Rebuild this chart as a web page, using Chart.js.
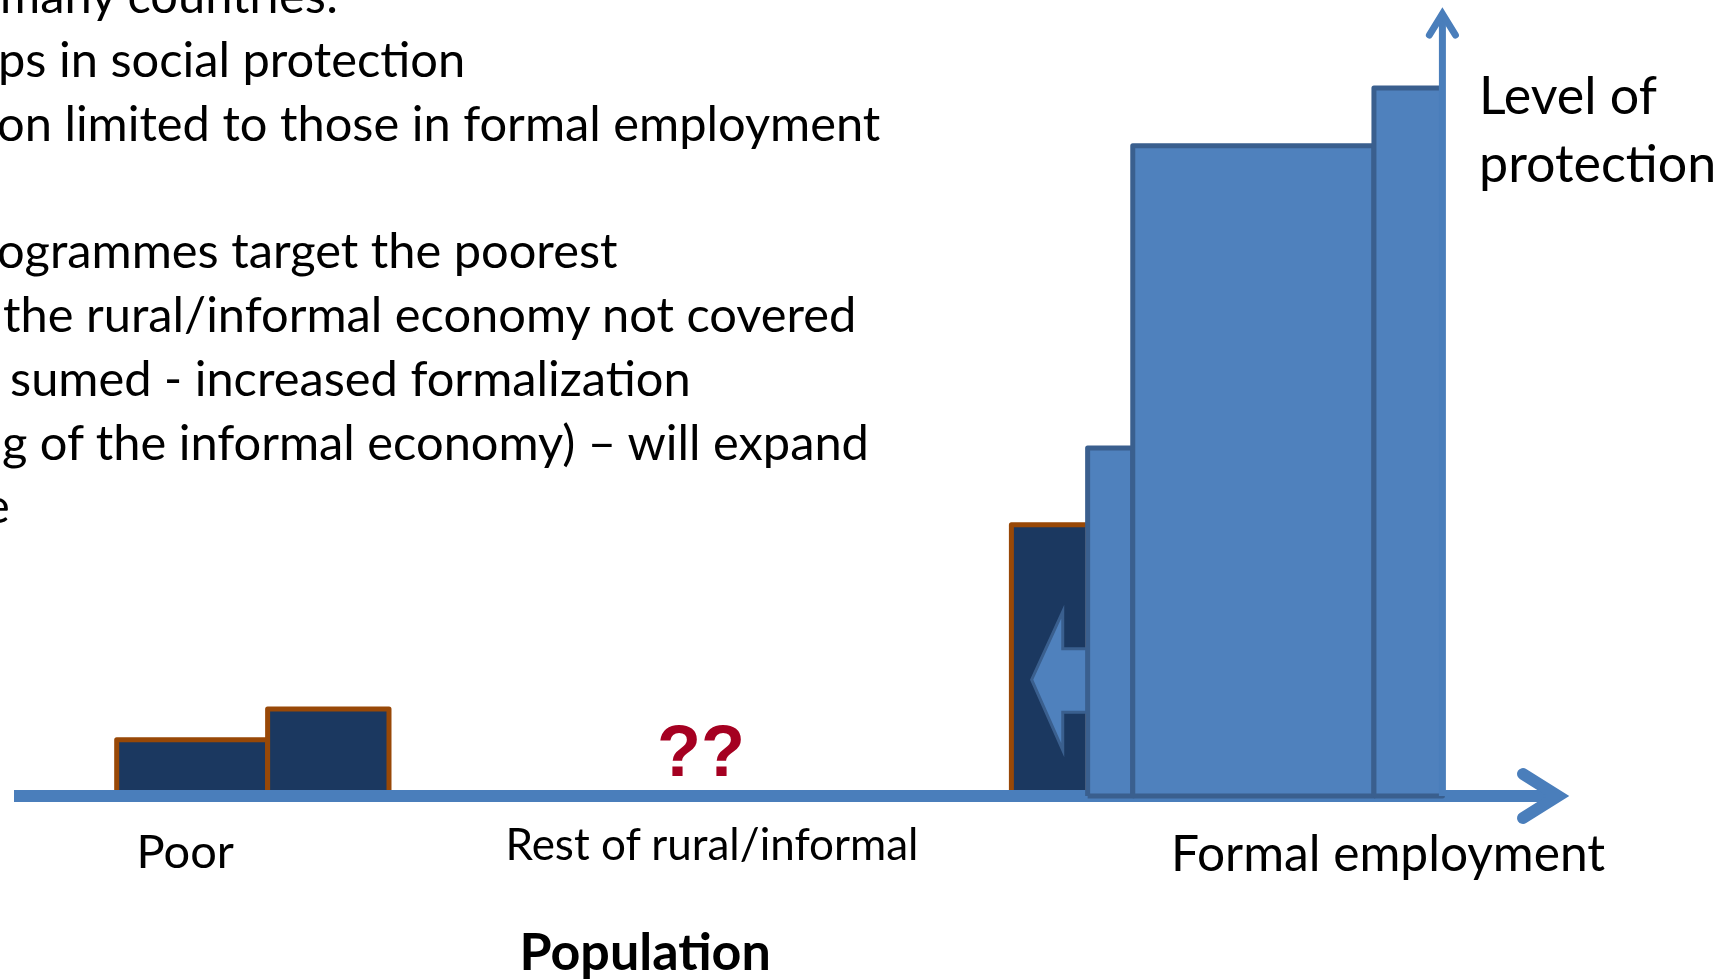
<!DOCTYPE html>
<html>
<head>
<meta charset="utf-8">
<title>Level of protection by population group</title>
<script src="https://cdn.jsdelivr.net/npm/chart.js@4.4.1/dist/chart.umd.min.js"></script>
<style>
  html, body { margin: 0; padding: 0; background: #fff; overflow: hidden; }
  #slide { position: relative; width: 1729px; height: 979px; overflow: hidden; }
  #slide canvas { position: absolute; left: 0; top: 0; }
  .txt { position: absolute; white-space: pre; font-family: Lato, "Open Sans", sans-serif; color: #000; line-height: 1; }
  .bullet { font-size: 48.8px; }
  .axis-name { font-size: 52px; }
  .group { font-size: 47px; }
  .group.small { font-size: 44px; }
  .group.big { font-size: 49.7px; }
  .pop { font-size: 52px; font-weight: bold; }
  .unknown { font-family: "Liberation Sans", Arial, sans-serif; font-weight: bold; font-size: 72px; color: #a50021; }
</style>
</head>
<body>
<div id="slide">
  <canvas id="protectionChart" width="1729" height="979"></canvas>
</div>
<script>
// population share (x, 0-100) and level of protection (y, 0-100) for each scheme band
var bandStart = [6.6, 16.3, 64.1, 69.0, 71.9, 87.4];
var bandEnd   = [16.3, 24.1, 69.0, 71.9, 87.4, 91.8];
var bandLevel = [7.1, 11.0, 34.3, 44.0, 82.2, 89.5];
var bandKind  = ['assistance', 'assistance', 'assistance', 'insurance', 'insurance', 'insurance'];

// the shift of formal schemes towards the informal economy (arrow outline, data units)
var expansionX = [69.0, 67.4, 67.4, 65.4, 67.4, 67.4, 69.0, 69.0];
var expansionY = [18.6, 18.6, 23.3, 14.7, 5.8, 10.6, 10.6, 18.6];

var groupLabels = ['Poor', 'Rest of rural/informal', 'Formal employment'];
var unknownMark = '??';
var xTitle = 'Population';
var yTitle = ['Level of', 'protection'];
var protectionAxisAt = 91.8;

var slideLines = [
  'many countries:',
  'ps in social protection',
  'on limited to those in formal employment',
  '',
  'ogrammes target the poorest',
  'the rural/informal economy not covered',
  'sumed - increased formalization',
  'g of the informal economy) \u2013 will expand',
  'e'
];

(function(){
  var NAVY = '#1b3860', BROWN = '#984807', BLUE = '#4f81bd', EDGE = '#3a5f8e', AXIS = '#4a7ebb';

  var datasets = bandStart.map(function(x0, i){
    var assist = bandKind[i] === 'assistance';
    var x1 = bandEnd[i], h = bandLevel[i];
    return {
      label: bandKind[i] + ' ' + i,
      data: [{x: x0, y: 0}, {x: x0, y: h}, {x: x1, y: h}, {x: x1, y: 0}, {x: x0, y: 0}],
      fill: 'shape',
      backgroundColor: assist ? NAVY : BLUE,
      borderColor: assist ? BROWN : EDGE,
      borderWidth: 5,
      borderJoinStyle: 'round',
      pointRadius: 0,
      tension: 0,
      clip: false,
      order: assist ? 30 - i : 10 - i
    };
  });

  datasets.push({
    label: 'expansion',
    data: expansionX.map(function(x, i){ return {x: x, y: expansionY[i]}; }),
    fill: 'shape',
    backgroundColor: BLUE,
    borderColor: EDGE,
    borderWidth: 3,
    pointRadius: 0,
    tension: 0,
    clip: false,
    order: 20
  });

  function chevron(ctx, pts){
    ctx.beginPath();
    ctx.moveTo(pts[0][0], pts[0][1]);
    ctx.lineTo(pts[1][0], pts[1][1]);
    ctx.lineTo(pts[2][0], pts[2][1]);
    ctx.stroke();
  }

  var axesPlugin = {
    id: 'slideAxes',
    afterDatasetDraw: function(chart, args){
      if (chart.data.datasets[args.index].label !== 'expansion') return;
      var ctx = chart.ctx, a = chart.chartArea;
      var y0 = chart.scales.y.getPixelForValue(0);
      ctx.save();
      ctx.strokeStyle = AXIS;
      ctx.lineWidth = 12;
      ctx.lineCap = 'butt';
      ctx.beginPath();
      ctx.moveTo(a.left, y0);
      ctx.lineTo(a.right - 12, y0);
      ctx.stroke();
      ctx.lineCap = 'round';
      ctx.lineJoin = 'miter';
      chevron(ctx, [[a.right - 47, y0 - 22], [a.right - 12, y0], [a.right - 47, y0 + 22]]);
      ctx.restore();
    },
    afterDatasetsDraw: function(chart){
      var ctx = chart.ctx, a = chart.chartArea;
      var y0 = chart.scales.y.getPixelForValue(0);
      var x = chart.scales.x.getPixelForValue(protectionAxisAt);
      ctx.save();
      ctx.strokeStyle = AXIS;
      ctx.lineWidth = 7;
      ctx.lineCap = 'butt';
      ctx.beginPath();
      ctx.moveTo(x, y0);
      ctx.lineTo(x, a.top + 9);
      ctx.stroke();
      ctx.lineCap = 'round';
      ctx.lineJoin = 'miter';
      chevron(ctx, [[x - 13, a.top + 30], [x, a.top + 9], [x + 13, a.top + 30]]);
      ctx.restore();
    }
  };

  new Chart(document.getElementById('protectionChart').getContext('2d'), {
    type: 'line',
    data: { datasets: datasets },
    options: {
      responsive: false,
      animation: false,
      events: [],
      layout: { padding: { left: 14, right: 159, top: 5, bottom: 183 } },
      scales: {
        x: { type: 'linear', min: 0, max: 100, display: false },
        y: { type: 'linear', min: 0, max: 100, display: false }
      },
      plugins: { legend: { display: false }, tooltip: { enabled: false } }
    },
    plugins: [axesPlugin]
  });

  // text: placed by baseline
  var slide = document.getElementById('slide');
  function addText(str, cls, x, baseline, align){
    var el = document.createElement('div');
    el.className = 'txt ' + cls;
    el.textContent = str;
    var probe = document.createElement('span');
    probe.style.cssText = 'display:inline-block;width:0;height:0;vertical-align:baseline;';
    el.appendChild(probe);
    slide.appendChild(el);
    el._place = function(){
      el.style.top = (baseline - probe.offsetTop) + 'px';
      el.style.left = (align === 'center' ? x - el.offsetWidth / 2 : x) + 'px';
    };
    el._place();
    return el;
  }

  var placed = [];
  var lineLeft = [0, -2, -3, 0, -3, 3, 10, 2, -16];
  slideLines.forEach(function(s, i){
    if (s) placed.push(addText(s, 'bullet', lineLeft[i], 13 + 63.8 * i));
  });
  placed.push(addText(yTitle[0], 'axis-name', 1479, 114));
  placed.push(addText(yTitle[1], 'axis-name', 1479, 182));
  placed.push(addText(groupLabels[0], 'group', 185, 868, 'center'));
  placed.push(addText(groupLabels[1], 'group small', 712, 860, 'center'));
  placed.push(addText(groupLabels[2], 'group big', 1388, 871, 'center'));
  placed.push(addText(xTitle, 'pop', 645, 970, 'center'));
  placed.push(addText(unknownMark, 'unknown', 701, 776, 'center'));

  if (document.fonts && document.fonts.ready) {
    document.fonts.ready.then(function(){ placed.forEach(function(el){ el._place(); }); });
  }
})();
</script>
</body>
</html>
